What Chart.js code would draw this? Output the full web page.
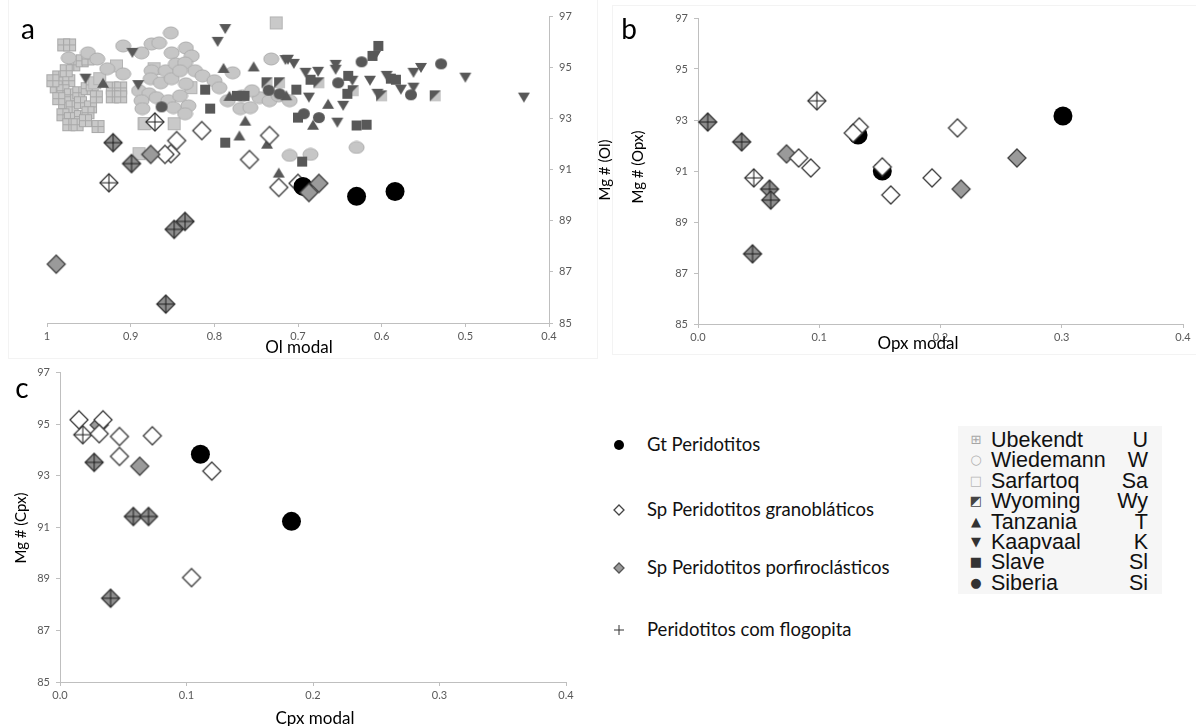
<!DOCTYPE html>
<html>
<head>
<meta charset="utf-8">
<script src="https://cdn.jsdelivr.net/npm/chart.js@4.4.0/dist/chart.umd.min.js"></script>
<style>
  body { margin: 0; background: #fff; width: 1196px; height: 726px; position: relative; overflow: hidden; font-family: Lato, sans-serif; }
  .panel { position: absolute; }
  .frame { position: absolute; border: 1px solid #f3f3f3; }
  .txt { position: absolute; white-space: nowrap; color: #000; transform: translate(-50%, -50%); }
  .ytitle { transform: translate(-50%, -50%) rotate(-90deg); font-size: 15px; }
  .xtitle { font-size: 17px; }
  .letter { font-size: 28px; }
  .leg { position: absolute; white-space: nowrap; font-size: 18.5px; color: #111; }
  .legmark { position: absolute; }
  #craton { position: absolute; left: 958px; top: 426px; width: 204px; height: 168px; background: #f6f6f6; font-family: "Liberation Sans", Arial, sans-serif; }
  .crow { position: absolute; left: 0; width: 198px; height: 20px; font-size: 21.5px; line-height: 20px; color: #111; }
  .crow .g { position: absolute; left: 10px; width: 16px; text-align: center; font-family: "DejaVu Sans", sans-serif; font-size: 13px; }
  .crow .n { position: absolute; left: 33px; }
  .crow .a { position: absolute; right: 8px; }
</style>
</head>
<body>
<div class="frame" style="left:8px; top:-2px; width:588px; height:359px;"></div>
<div class="frame" style="left:612px; top:5px; width:590px; height:348px;"></div>

<canvas id="chartA" class="panel" style="left:0; top:0;" width="620" height="360"></canvas>
<canvas id="chartB" class="panel" style="left:600px; top:0;" width="596" height="360"></canvas>
<canvas id="chartC" class="panel" style="left:0; top:360px;" width="600" height="366"></canvas>

<div class="txt letter" style="left:28px; top:28px;">a</div>
<div class="txt letter" style="left:629px; top:28px;">b</div>
<div class="txt letter" style="left:22px; top:387px;">c</div>

<div class="txt xtitle" style="left:299px; top:346px;">Ol modal</div>
<div class="txt xtitle" style="left:918px; top:342px;">Opx modal</div>
<div class="txt xtitle" style="left:315px; top:717px;">Cpx modal</div>

<div class="txt ytitle" style="left:604px; top:170px;">Mg # (Ol)</div>
<div class="txt ytitle" style="left:637px; top:167px;">Mg # (Opx)</div>
<div class="txt ytitle" style="left:20px; top:528px;">Mg # (Cpx)</div>

<div id="legend"></div>
<div id="craton"></div>

<script>
// Mg# ticks shared by the three panels, modal proportion ticks
const mgTicks = [85, 87, 89, 91, 93, 95, 97];
const olTicks = [0.4, 0.5, 0.6, 0.7, 0.8, 0.9, 1];
const modalTicks = [0, 0.1, 0.2, 0.3, 0.4];

// ---- panel a: Ol modal vs Mg# (Ol) ----
// craton reference data
const olUbekendt = [[0.980,95.87],[0.973,95.87],[0.968,95.09],[0.958,95.25],[0.951,95.32],[0.986,94.62],[0.974,94.47],[0.989,94.23],[0.981,94.08],[0.972,93.92],[0.962,94.00],[0.952,94.16],[0.946,94.31],[0.979,93.61],[0.970,93.45],[0.960,93.61],[0.948,93.45],[0.981,93.14],[0.972,92.99],[0.960,93.07],[0.951,93.22],[0.974,92.75],[0.964,92.75],[0.954,92.91],[0.939,92.68],[0.993,94.47],[0.986,93.77],[0.977,94.86],[0.922,94.19],[0.912,94.19],[0.922,93.84],[0.912,93.84],[0.941,93.84]];
const olWiedemann = [[0.852,96.34],[0.909,95.83],[0.887,95.56],[0.875,95.91],[0.866,95.95],[0.851,95.56],[0.834,95.75],[0.827,95.44],[0.974,95.36],[0.951,95.56],[0.940,95.32],[0.928,94.94],[0.909,94.74],[0.875,94.86],[0.858,94.86],[0.846,95.13],[0.835,95.17],[0.823,94.86],[0.814,94.66],[0.876,94.55],[0.864,94.39],[0.851,94.55],[0.841,94.86],[0.834,94.35],[0.890,94.08],[0.878,93.96],[0.887,93.69],[0.886,93.38],[0.869,93.81],[0.855,93.69],[0.841,93.88],[0.831,93.49],[0.849,93.42],[0.835,93.18],[0.800,94.47],[0.794,94.20],[0.778,94.78],[0.784,93.69],[0.769,93.38],[0.757,93.42],[0.746,93.81],[0.734,93.69],[0.732,95.32],[0.723,93.88],[0.710,93.69],[0.710,91.55],[0.685,91.59],[0.630,91.86],[0.767,93.88],[0.755,94.08]];
const olSarfartoq = [[0.726,96.73],[0.884,92.79],[0.848,92.79],[0.890,91.62],[0.917,95.05],[0.872,94.94],[0.943,94.39],[0.828,94.20],[0.937,94.55],[0.883,92.80]];
const olWyoming = [[0.737,94.39],[0.722,94.39],[0.675,94.39],[0.634,94.08],[0.600,93.88],[0.536,93.88]];
const olTanzania = [[0.753,95.03],[0.664,93.57],[0.682,92.75],[0.763,92.91],[0.770,92.33],[0.737,92.01],[0.723,90.88],[0.782,93.88],[0.933,94.39],[0.789,94.97],[0.714,93.90]];
const olKaapvaal = [[0.787,96.49],[0.796,95.99],[0.954,94.55],[0.898,95.56],[0.712,95.29],[0.705,95.13],[0.691,94.78],[0.676,94.82],[0.655,95.09],[0.655,94.90],[0.635,94.47],[0.614,94.47],[0.562,94.78],[0.553,94.97],[0.577,94.12],[0.562,94.20],[0.594,94.66],[0.500,94.59],[0.430,93.81],[0.646,93.49],[0.653,92.83],[0.687,93.81],[0.605,93.96],[0.608,95.44],[0.715,95.28],[0.891,94.30]];
const olSlave = [[0.604,95.83],[0.611,95.44],[0.640,94.66],[0.685,94.51],[0.702,94.12],[0.641,93.96],[0.589,94.55],[0.583,94.51],[0.700,93.03],[0.630,92.72],[0.618,92.75],[0.695,91.31],[0.811,94.12],[0.805,93.38],[0.787,92.05],[0.773,93.88],[0.764,93.88]];
const olSiberia = [[0.529,95.13],[0.624,95.21],[0.652,94.39],[0.565,93.92],[0.693,93.18],[0.675,93.03],[0.722,93.96],[0.863,93.45],[0.735,94.10]];
// studied samples
const olGt = [[0.694,90.34],[0.630,89.95],[0.584,90.14]];
const olGrano = [[0.815,92.52],[0.845,92.13],[0.852,91.62],[0.859,91.59],[0.758,91.39],[0.734,92.33],[0.723,90.30],[0.700,90.46]];
const olGranoPhl = [[0.871,92.86],[0.926,90.48]];
const olPorf = [[0.876,91.59],[0.675,90.46],[0.687,90.10],[0.989,87.30]];
const olPorfPhl = [[0.921,92.05],[0.899,91.23],[0.835,88.97],[0.848,88.66],[0.858,85.74]];

// ---- panel b: Opx modal vs Mg# (Opx) ----
const opxGt = [[0.301,93.16],[0.132,92.41],[0.152,91.00]];
const opxGrano = [[0.083,91.51],[0.093,91.12],[0.133,92.73],[0.128,92.49],[0.152,91.16],[0.159,90.06],[0.193,90.73],[0.214,92.69]];
const opxGranoPhl = [[0.098,93.75],[0.046,90.73]];
const opxPorf = [[0.073,91.67],[0.263,91.51],[0.217,90.29]];
const opxPorfPhl = [[0.008,92.92],[0.036,92.14],[0.059,90.29],[0.060,89.86],[0.045,87.75]];

// ---- panel c: Cpx modal vs Mg# (Cpx) ----
const cpxGt = [[0.111,93.83],[0.183,91.23]];
const cpxGrano = [[0.015,95.17],[0.034,95.17],[0.031,94.63],[0.047,94.52],[0.047,93.75],[0.073,94.55],[0.120,93.18],[0.104,89.05]];
const cpxGranoPhl = [[0.018,94.59]];
const cpxPorf = [[0.031,94.97],[0.063,93.37]];
const cpxPorfPhl = [[0.027,93.52],[0.058,91.42],[0.070,91.42],[0.040,88.25]];

const AXIS = '#bfbfbf';
const TICK_FONT = { family: 'Lato', size: 11 };
const TICK_COLOR = '#595959';
const LIGHT = '#c6c6c6', LIGHT_EDGE = '#acacac', DARK = '#585858';

// marker images
function makeCanvas(w, h, draw) {
  const c = document.createElement('canvas');
  c.width = w; c.height = h;
  draw(c.getContext('2d'), w, h);
  return c;
}
function ellipseMark(w, h, fill, edge) {
  return makeCanvas(w + 2, h + 2, (ctx) => {
    ctx.beginPath();
    ctx.ellipse((w + 2) / 2, (h + 2) / 2, w / 2, h / 2, 0, 0, Math.PI * 2);
    ctx.fillStyle = fill; ctx.fill();
    if (edge) { ctx.strokeStyle = edge; ctx.lineWidth = 1; ctx.stroke(); }
  });
}
function squareMark(s, fill, edge, grid) {
  return makeCanvas(s + 2, s + 2, (ctx) => {
    ctx.fillStyle = fill; ctx.fillRect(1, 1, s, s);
    if (edge) {
      ctx.strokeStyle = edge; ctx.lineWidth = 1;
      ctx.strokeRect(1.5, 1.5, s - 1, s - 1);
      if (grid) {
        const m = 1 + s / 2;
        ctx.beginPath();
        ctx.moveTo(m, 1); ctx.lineTo(m, s + 1);
        ctx.moveTo(1, m); ctx.lineTo(s + 1, m);
        ctx.stroke();
      }
    }
  });
}
function splitMark(s) {
  return makeCanvas(s + 2, s + 2, (ctx) => {
    ctx.fillStyle = LIGHT; ctx.fillRect(1, 1, s, s);
    ctx.beginPath(); ctx.moveTo(1, 1); ctx.lineTo(s + 1, 1); ctx.lineTo(1, s + 1); ctx.closePath();
    ctx.fillStyle = DARK; ctx.fill();
  });
}
function triangleMark(w, h, down) {
  return makeCanvas(w + 2, h + 2, (ctx) => {
    ctx.beginPath();
    if (down) { ctx.moveTo(1, 1); ctx.lineTo(w + 1, 1); ctx.lineTo(w / 2 + 1, h + 1); }
    else { ctx.moveTo(w / 2 + 1, 1); ctx.lineTo(w + 1, h + 1); ctx.lineTo(1, h + 1); }
    ctx.closePath();
    ctx.fillStyle = DARK; ctx.fill();
  });
}
function diamondMark(r, fill, edge, cross) {
  const n = 2 * r + 4;
  return makeCanvas(n, n, (ctx) => {
    const c = n / 2;
    ctx.beginPath();
    ctx.moveTo(c, c - r); ctx.lineTo(c + r, c); ctx.lineTo(c, c + r); ctx.lineTo(c - r, c);
    ctx.closePath();
    ctx.fillStyle = fill; ctx.fill();
    ctx.strokeStyle = edge; ctx.lineWidth = 1.3; ctx.stroke();
    if (cross) {
      ctx.beginPath();
      ctx.moveTo(c, c - r); ctx.lineTo(c, c + r);
      ctx.moveTo(c - r, c); ctx.lineTo(c + r, c);
      ctx.strokeStyle = '#1c1c1c'; ctx.lineWidth = 1; ctx.stroke();
    }
  });
}
function plusMark(r) {
  const n = 2 * r + 2;
  return makeCanvas(n, n, (ctx) => {
    const c = n / 2;
    ctx.beginPath();
    ctx.moveTo(c, 1); ctx.lineTo(c, n - 1);
    ctx.moveTo(1, c); ctx.lineTo(n - 1, c);
    ctx.strokeStyle = '#333'; ctx.lineWidth = 1; ctx.stroke();
  });
}

const mk = {
  ubekendt: squareMark(13, '#c9c9c9', '#a8a8a8', true),
  wiedemann: ellipseMark(15, 12, LIGHT, LIGHT_EDGE),
  sarfartoq: squareMark(13, '#c9c9c9', '#b4b4b4', false),
  wyoming: splitMark(11),
  tanzania: triangleMark(12, 10, false),
  kaapvaal: triangleMark(12, 10, true),
  slave: squareMark(10, DARK, null, false),
  siberia: ellipseMark(12, 11, DARK, null),
  grano: diamondMark(9, '#ffffff', '#3a3a3a', false),
  granoPhl: diamondMark(9, '#ffffff', '#3a3a3a', true),
  porf: diamondMark(9, '#9a9a9a', '#404040', false),
  porfPhl: diamondMark(9, '#8e8e8e', '#353535', true)
};

const pts = arr => arr.map(([x, y]) => ({ x, y }));
function imgSet(label, data, style, order) {
  return { label, data: pts(data), pointStyle: style, pointRadius: 8, order, clip: false };
}
function gtSet(data, order) {
  return { label: 'Gt Peridotitos', data: pts(data), pointStyle: 'circle', pointRadius: 9.5,
    backgroundColor: '#000', borderColor: '#000', borderWidth: 0, order, clip: false };
}

function xAxis(ticks, fmt, reverse) {
  return {
    type: 'linear', position: 'bottom', reverse,
    min: Math.min(...ticks), max: Math.max(...ticks),
    afterBuildTicks: s => { s.ticks = ticks.map(v => ({ value: v })); },
    afterFit: s => { s.height = 22; },
    grid: { drawOnChartArea: false, tickLength: 4, color: AXIS },
    border: { color: AXIS },
    ticks: { font: TICK_FONT, color: TICK_COLOR, padding: 3, maxRotation: 0, autoSkip: false, callback: fmt }
  };
}
function yAxis(position) {
  return {
    type: 'linear', position,
    min: 85, max: 97,
    afterBuildTicks: s => { s.ticks = mgTicks.map(v => ({ value: v })); },
    afterFit: s => { s.width = 40; },
    grid: { drawOnChartArea: false, tickLength: 4, color: AXIS },
    border: { color: AXIS },
    ticks: { font: TICK_FONT, color: TICK_COLOR, padding: 6, callback: v => String(v) }
  };
}
function panel(id, datasets, x, y, padding) {
  return new Chart(document.getElementById(id), {
    type: 'scatter',
    data: { datasets },
    options: {
      responsive: false, animation: false, devicePixelRatio: 1,
      layout: { padding },
      plugins: { legend: { display: false }, tooltip: { enabled: false } },
      scales: { x, y }
    }
  });
}

const olFmt = v => (Math.abs(v - 1) < 1e-9 ? '1' : v.toFixed(1));
const modalFmt = v => v.toFixed(1);

panel('chartA', [
  imgSet('Sp Peridotitos porfiroclásticos', olPorf, mk.porf, 1),
  imgSet('Peridotitos com flogopita', olPorfPhl, mk.porfPhl, 1),
  gtSet(olGt, 2),
  imgSet('Sp Peridotitos granobláticos', olGrano, mk.grano, 3),
  imgSet('Peridotitos com flogopita', olGranoPhl, mk.granoPhl, 3),
  imgSet('Siberia', olSiberia, mk.siberia, 10),
  imgSet('Slave', olSlave, mk.slave, 10),
  imgSet('Kaapvaal', olKaapvaal, mk.kaapvaal, 10),
  imgSet('Tanzania', olTanzania, mk.tanzania, 10),
  imgSet('Wyoming', olWyoming, mk.wyoming, 10),
  imgSet('Wiedemann', olWiedemann, mk.wiedemann, 11),
  imgSet('Sarfartoq', olSarfartoq, mk.sarfartoq, 11),
  imgSet('Ubekendt', olUbekendt, mk.ubekendt, 12)
], xAxis(olTicks, olFmt, true), yAxis('right'), { left: 47, top: 16, right: 31, bottom: 15 });

panel('chartB', [
  imgSet('Sp Peridotitos granobláticos', opxGrano, mk.grano, 1),
  imgSet('Peridotitos com flogopita', opxGranoPhl, mk.granoPhl, 1),
  imgSet('Sp Peridotitos porfiroclásticos', opxPorf, mk.porf, 1),
  imgSet('Peridotitos com flogopita', opxPorfPhl, mk.porfPhl, 1),
  gtSet(opxGt, 5)
], xAxis(modalTicks, modalFmt, false), yAxis('left'), { left: 58, top: 18, right: 13, bottom: 14 });

panel('chartC', [
  imgSet('Sp Peridotitos granobláticos', cpxGrano, mk.grano, 1),
  imgSet('Peridotitos com flogopita', cpxGranoPhl, mk.granoPhl, 1),
  imgSet('Sp Peridotitos porfiroclásticos', cpxPorf, mk.porf, 1),
  imgSet('Peridotitos com flogopita', cpxPorfPhl, mk.porfPhl, 1),
  gtSet(cpxGt, 5)
], xAxis(modalTicks, modalFmt, false), yAxis('left'), { left: 20, top: 8, right: 34, bottom: 22 });

// sample-type legend
const sampleLegend = [
  { text: 'Gt Peridotitos', y: 445, mark: ellipseMark(10, 10, '#000', null) },
  { text: 'Sp Peridotitos granobláticos', y: 510, mark: diamondMark(5, '#fff', '#444', false) },
  { text: 'Sp Peridotitos porfiroclásticos', y: 568, mark: diamondMark(5, '#9a9a9a', '#555', false) },
  { text: 'Peridotitos com flogopita', y: 630, mark: plusMark(5) }
];
const legendBox = document.getElementById('legend');
sampleLegend.forEach(item => {
  const m = item.mark;
  m.className = 'legmark';
  m.style.left = (619 - m.width / 2) + 'px';
  m.style.top = (item.y - m.height / 2) + 'px';
  legendBox.appendChild(m);
  const t = document.createElement('div');
  t.className = 'leg';
  t.style.left = '647px';
  t.style.top = (item.y - 12) + 'px';
  t.textContent = item.text;
  legendBox.appendChild(t);
});

// craton legend
const cratonLegend = [
  ['⊞', '#a6a6a6', 'Ubekendt', 'U'],
  ['○', '#b0b0b0', 'Wiedemann', 'W'],
  ['□', '#b8b8b8', 'Sarfartoq', 'Sa'],
  ['◩', '#444', 'Wyoming', 'Wy'],
  ['▲', '#333', 'Tanzania', 'T'],
  ['▼', '#333', 'Kaapvaal', 'K'],
  ['■', '#333', 'Slave', 'Sl'],
  ['●', '#333', 'Siberia', 'Si']
];
const cratonBox = document.getElementById('craton');
cratonLegend.forEach(([g, col, name, abbr], i) => {
  const row = document.createElement('div');
  row.className = 'crow';
  row.style.top = (4 + i * 20.4) + 'px';
  row.innerHTML = '<span class="g" style="color:' + col + '">' + g + '</span><span class="n">' + name + '</span><span class="a">' + abbr + '</span>';
  cratonBox.appendChild(row);
});
</script>
</body>
</html>
